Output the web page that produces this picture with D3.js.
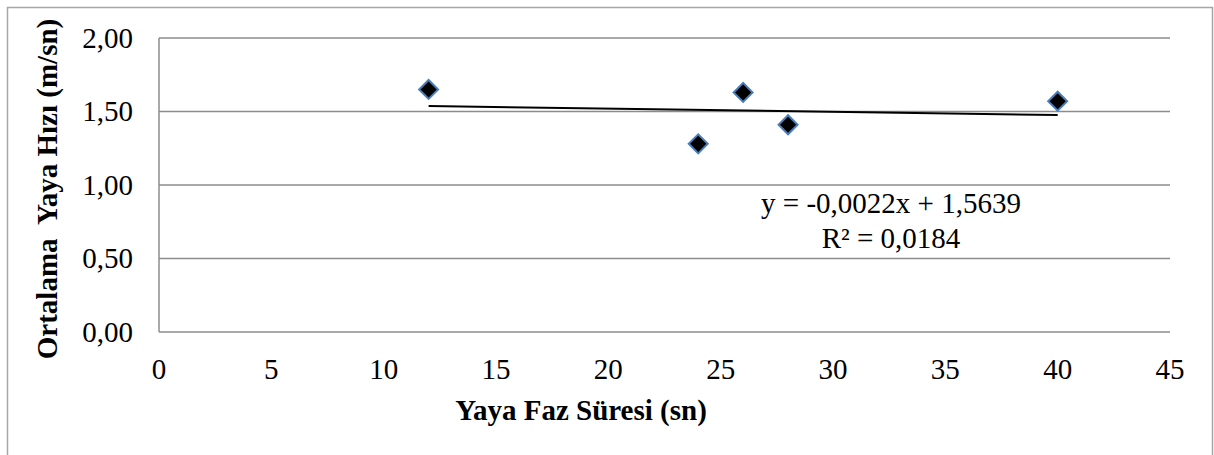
<!DOCTYPE html>
<html>
<head>
<meta charset="utf-8">
<script src="https://cdn.jsdelivr.net/npm/d3@7/dist/d3.min.js"></script>
<style>
  html, body { margin: 0; padding: 0; background: #fff; overflow: hidden; }
  text { font-family: "Liberation Serif", "Times New Roman", serif; fill: #000; }
</style>
</head>
<body>
<svg id="chart" width="1214" height="455"></svg>
<script>
// ---- data ----
const xValues = [12, 24, 26, 28, 40];
const yValues = [1.65, 1.28, 1.63, 1.41, 1.57];
const xTicks = [0, 5, 10, 15, 20, 25, 30, 35, 40, 45];
const yTicks = [0, 0.5, 1.0, 1.5, 2.0];
const trendSlope = -0.0022;
const trendIntercept = 1.5639;
const trendRange = [12, 40];
const equationLines = ["y = -0,0022x + 1,5639", "R² = 0,0184"];
const xTitle = "Yaya Faz Süresi (sn)";
const yTitle = "Ortalama  Yaya Hızı (m/sn)";

// ---- layout ----
const svg = d3.select("#chart");
const plot = { left: 159, right: 1170, top: 38, bottom: 332 };
const fs = 29;

const x = d3.scaleLinear().domain([0, 45]).range([plot.left, plot.right]);
const y = d3.scaleLinear().domain([0, 2]).range([plot.bottom, plot.top]);

const fmtY = v => d3.format(".2f")(v).replace(".", ",");

// outer border
svg.append("rect")
  .attr("x", 7.5).attr("y", 7.5)
  .attr("width", 1205).attr("height", 470)
  .attr("fill", "none").attr("stroke", "#a6a6a6").attr("stroke-width", 1.5);

// gridlines
svg.append("g").selectAll("line").data(yTicks).join("line")
  .attr("x1", plot.left).attr("x2", plot.right)
  .attr("y1", d => y(d)).attr("y2", d => y(d))
  .attr("stroke", "#8c8c8c").attr("stroke-width", 1.5);

// y axis line
svg.append("line")
  .attr("x1", plot.left).attr("x2", plot.left)
  .attr("y1", plot.top).attr("y2", plot.bottom)
  .attr("stroke", "#8c8c8c").attr("stroke-width", 1.5);

// y tick labels
svg.append("g").selectAll("text").data(yTicks).join("text")
  .attr("x", 133).attr("y", d => y(d))
  .attr("dy", "0.34em")
  .attr("text-anchor", "end")
  .attr("font-size", fs)
  .text(fmtY);

// x tick labels
svg.append("g").selectAll("text").data(xTicks).join("text")
  .attr("x", d => x(d)).attr("y", 379)
  .attr("text-anchor", "middle")
  .attr("font-size", fs)
  .text(d => String(d));

// axis titles
svg.append("text")
  .attr("x", 581).attr("y", 420)
  .attr("text-anchor", "middle")
  .attr("font-size", fs).attr("font-weight", "bold")
  .style("white-space", "pre")
  .text(xTitle);

svg.append("text")
  .attr("transform", "translate(57,189) rotate(-90)")
  .attr("text-anchor", "middle")
  .attr("font-size", fs).attr("font-weight", "bold")
  .style("white-space", "pre")
  .text(yTitle);

// trendline
svg.append("line")
  .attr("x1", x(trendRange[0])).attr("y1", y(trendIntercept + trendSlope * trendRange[0]))
  .attr("x2", x(trendRange[1])).attr("y2", y(trendIntercept + trendSlope * trendRange[1]))
  .attr("stroke", "#000").attr("stroke-width", 2);

// points
const pts = xValues.map((v, i) => ({ x: v, y: yValues[i] }));
const diamond = d3.symbol().type(d3.symbolSquare).size(180);
svg.append("g").selectAll("path").data(pts).join("path")
  .attr("d", diamond)
  .attr("transform", d => `translate(${x(d.x)},${y(d.y)}) rotate(45)`)
  .attr("fill", "#000")
  .attr("stroke", "#4a7ebb").attr("stroke-width", 2);

// equation label
svg.append("g").selectAll("text").data(equationLines).join("text")
  .attr("x", 891).attr("y", (d, i) => 213 + i * 35)
  .attr("text-anchor", "middle")
  .attr("font-size", fs)
  .text(d => d);
</script>
</body>
</html>
